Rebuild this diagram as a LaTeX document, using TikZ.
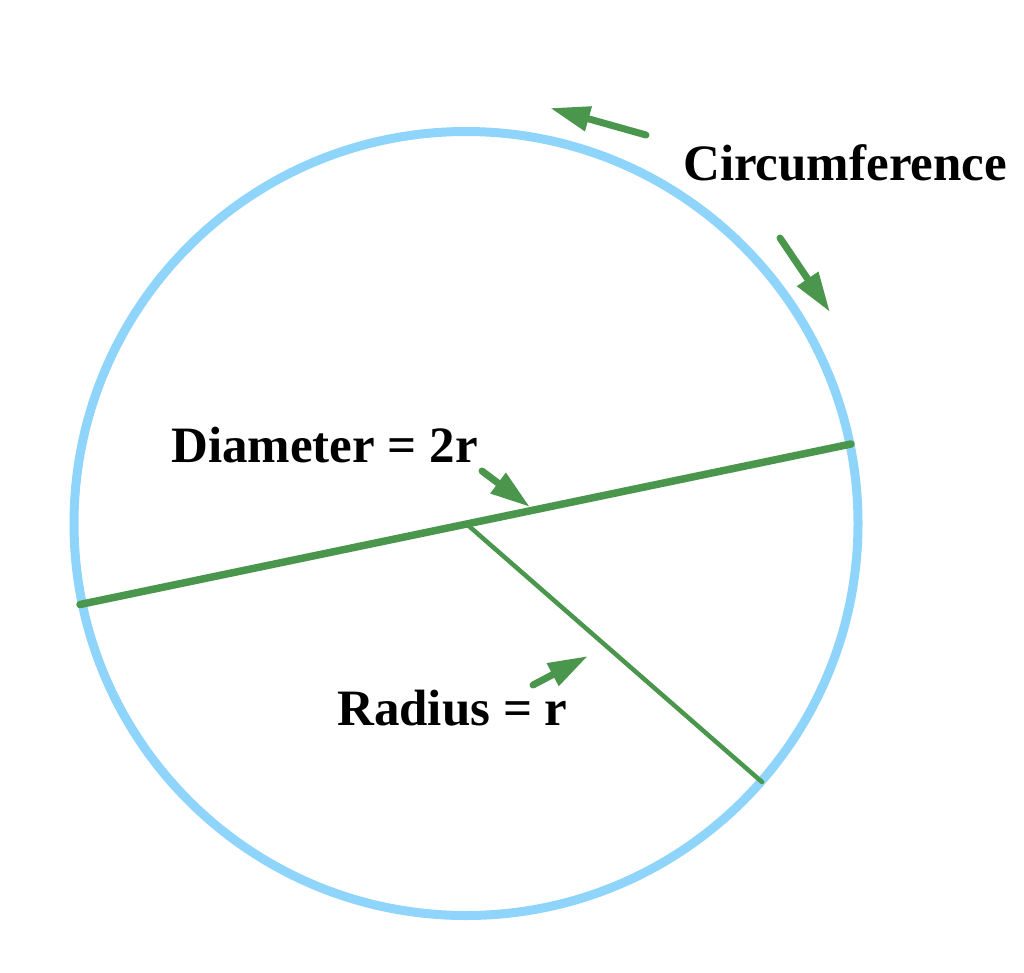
\documentclass[tikz,border=0pt]{standalone}
\usepackage{fontspec}
\setmainfont{Liberation Serif}
\usetikzlibrary{arrows.meta}
\definecolor{rimcolor}{HTML}{8FD4FB}
\definecolor{linecolor}{HTML}{4A964D}
\tikzstyle{rim} = [
    circle,
    draw=rimcolor,
    line width=9pt,
    minimum size=784pt,
    inner sep=0pt,
    outer sep=0pt
    ]
\tikzstyle{diamline} = [draw=linecolor, line width=7.5pt, line cap=round]
\tikzstyle{radline} = [draw=linecolor, line width=4.5pt, line cap=round]
\tikzstyle{pointer} = [
    draw=linecolor,
    line width=7pt,
    line cap=round,
    -{Triangle[length=40pt,width=24pt]}
    ]
\tikzstyle{labeltext} = [
    font=\fontsize{51}{61}\selectfont\bfseries,
    inner sep=0pt,
    anchor=base west
    ]

\begin{document}
\begin{tikzpicture}[x=1pt, y=-1pt]
\useasboundingbox (0,0) rectangle (1024,972);
\node [rim] (rim) at (466,523.5) {};
% diameter and radius
\coordinate (diamleft) at (80,604.5);
\coordinate (diamright) at (851,444);
\coordinate (radend) at (762,782);
\draw [diamline] (diamleft) -- (diamright);
\draw [radline] (rim.center) -- (radend);
% labels
\node [labeltext] (circlabel) at (683,180) {Circumference};
\node [labeltext] (diamlabel) at (171,462) {Diameter = 2r};
\node [labeltext] (radlabel) at (337,725) {Radius = r};
% pointers
\coordinate (circtailA) at (646,135);
\coordinate (circtipA) at (550,108);
\coordinate (circtailB) at (780,238);
\coordinate (circtipB) at (830,312);
\coordinate (diamtail) at (482,471);
\coordinate (diamtip) at (530,507);
\coordinate (radtail) at (533,685);
\coordinate (radtip) at (588,656);
\draw [pointer] (circtailA) -- (circtipA);
\draw [pointer] (circtailB) -- (circtipB);
\draw [pointer] (diamtail) -- (diamtip);
\draw [pointer] (radtail) -- (radtip);
\end{tikzpicture}
\end{document}
